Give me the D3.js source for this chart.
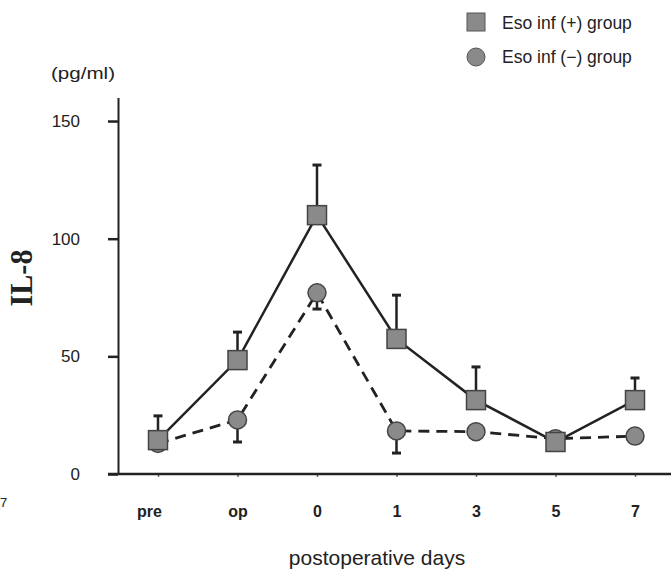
<!DOCTYPE html>
<html>
<head>
<meta charset="utf-8">
<script src="https://cdn.jsdelivr.net/npm/d3@7"></script>
<style>
  body { margin: 0; background: #fff; }
  svg { display: block; }
</style>
</head>
<body>
<div id="chart"></div>
<script>
// values (IL-8, pg/ml)
const days = ["pre", "op", "0", "1", "3", "5", "7"];
const infPos = [14.4, 48.4, 110, 57.4, 31.4, 13.6, 31.4];
const infPosErr = [10.3, 11.9, 21.3, 18.6, 14.1, 0, 9.4];
const infNeg = [13, 23, 77, 18.3, 18, 15, 16.1];
const infNegErr = [0, 9.4, 6.9, 9.4, 0, 0, 0];
const yTicks = [0, 50, 100, 150];
const seriesNames = ["Eso inf (+) group", "Eso inf (\u2212) group"];

const width = 671, height = 571;
const fillGray = "#8a8a8a", ink = "#222";
const font = '"Liberation Sans", Arial, sans-serif';

var svg = d3.select("#chart")
  .append("svg")
  .attr("width", width)
  .attr("height", height);

// scales
const y = d3.scaleLinear()
  .domain([0, 160])
  .range([474, 97.5]);

const x = d3.scalePoint()
  .domain(days)
  .range([158, 635]);

const axisX = 118, tickLen = 10;

// y axis
var yAxis = svg.append("g")
  .attr("transform", `translate(${axisX},0)`)
  .call(d3.axisLeft(y).tickValues(yTicks).tickSize(tickLen).tickPadding(28).tickSizeOuter(0));

yAxis.select(".domain").attr("stroke", ink).attr("stroke-width", 2);
yAxis.selectAll(".tick line").attr("stroke", ink).attr("stroke-width", 2.5);
yAxis.selectAll(".tick text")
  .attr("fill", ink)
  .style("font-family", font)
  .style("font-size", "17px");

// x axis
var xAxis = svg.append("g")
  .attr("transform", `translate(0,${y(0)})`)
  .call(d3.axisBottom(x).tickSize(3).tickPadding(28.6));

xAxis.select(".domain").remove();
xAxis.selectAll(".tick line").attr("stroke", "#666").attr("stroke-width", 1.5);
xAxis.selectAll(".tick text")
  .attr("fill", ink)
  .style("font-family", font)
  .style("font-size", "16px")
  .style("font-weight", "bold");
xAxis.selectAll(".tick text").filter(d => d === "pre").attr("dx", -9);

xAxis.append("line")
  .attr("x1", axisX - tickLen)
  .attr("x2", width)
  .attr("y1", 0)
  .attr("y2", 0)
  .attr("stroke", ink)
  .attr("stroke-width", 2.5);

// axis titles
svg.append("text")
  .attr("x", 51)
  .attr("y", 79)
  .attr("textLength", 64)
  .attr("lengthAdjust", "spacingAndGlyphs")
  .text("(pg/ml)")
  .style("font-family", font)
  .style("font-size", "17px")
  .attr("fill", ink);

svg.append("text")
  .attr("transform", "translate(32,278) rotate(-90)")
  .attr("text-anchor", "middle")
  .attr("textLength", 57)
  .attr("lengthAdjust", "spacingAndGlyphs")
  .text("IL-8")
  .style("font-family", '"Liberation Serif", "DejaVu Serif", serif')
  .style("font-size", "31px")
  .style("font-weight", "bold")
  .attr("fill", ink);

svg.append("text")
  .attr("x", 377)
  .attr("y", 565)
  .attr("text-anchor", "middle")
  .text("postoperative days")
  .style("font-family", font)
  .style("font-size", "21px")
  .attr("fill", ink);

// stray mark from the neighbouring figure, at the left edge
svg.append("text")
  .attr("x", 0)
  .attr("y", 507)
  .text("7")
  .style("font-family", font)
  .style("font-size", "13px")
  .attr("fill", ink);

// lines
const line = d3.line()
  .x((d, i) => x(days[i]))
  .y(d => y(d));

svg.append("path")
  .datum(infNeg)
  .attr("d", line)
  .attr("fill", "none")
  .attr("stroke", ink)
  .attr("stroke-width", 2.8)
  .attr("stroke-dasharray", "11,7");

svg.append("path")
  .datum(infPos)
  .attr("d", line)
  .attr("fill", "none")
  .attr("stroke", ink)
  .attr("stroke-width", 2.5);

// error bars: (+) group upward, (-) group downward
function errorBars(vals, errs, dir) {
  var g = svg.append("g")
    .attr("stroke", ink);
  var items = vals.map((v, i) => ({day: days[i], v: v, e: errs[i]})).filter(d => d.e > 0);
  g.selectAll(".stem")
    .data(items)
    .enter()
    .append("line")
    .attr("x1", d => x(d.day))
    .attr("x2", d => x(d.day))
    .attr("y1", d => y(d.v))
    .attr("y2", d => y(d.v + dir * d.e))
    .attr("stroke-width", 2.5);
  g.selectAll(".cap")
    .data(items)
    .enter()
    .append("line")
    .attr("x1", d => x(d.day) - 4.5)
    .attr("x2", d => x(d.day) + 4.5)
    .attr("y1", d => y(d.v + dir * d.e))
    .attr("y2", d => y(d.v + dir * d.e))
    .attr("stroke-width", 3);
}
errorBars(infPos, infPosErr, 1);
errorBars(infNeg, infNegErr, -1);

// markers
svg.append("g")
  .selectAll("circle")
  .data(infNeg)
  .enter()
  .append("circle")
  .attr("cx", (d, i) => x(days[i]))
  .attr("cy", d => y(d))
  .attr("r", 9)
  .attr("fill", fillGray)
  .attr("stroke", "#444")
  .attr("stroke-width", 1.5);

const sq = 19;
svg.append("g")
  .selectAll("rect")
  .data(infPos)
  .enter()
  .append("rect")
  .attr("x", (d, i) => x(days[i]) - sq / 2)
  .attr("y", d => y(d) - sq / 2)
  .attr("width", sq)
  .attr("height", sq)
  .attr("fill", fillGray)
  .attr("stroke", "#444")
  .attr("stroke-width", 1.5);

// legend
var legend = svg.append("g")
  .attr("transform", "translate(476,0)");

legend.append("rect")
  .attr("x", -9)
  .attr("y", 13)
  .attr("width", 18)
  .attr("height", 18)
  .attr("fill", fillGray)
  .attr("stroke", "#555")
  .attr("stroke-width", 1);

legend.append("circle")
  .attr("cx", 0)
  .attr("cy", 57)
  .attr("r", 9)
  .attr("fill", fillGray)
  .attr("stroke", "#555")
  .attr("stroke-width", 1);

legend.selectAll(".legend-label")
  .data(seriesNames)
  .enter()
  .append("text")
  .attr("class", "legend-label")
  .attr("x", 26)
  .attr("y", (d, i) => 29 + i * 34)
  .text(d => d)
  .style("font-family", font)
  .style("font-size", "17.5px")
  .attr("fill", ink);
</script>
</body>
</html>
